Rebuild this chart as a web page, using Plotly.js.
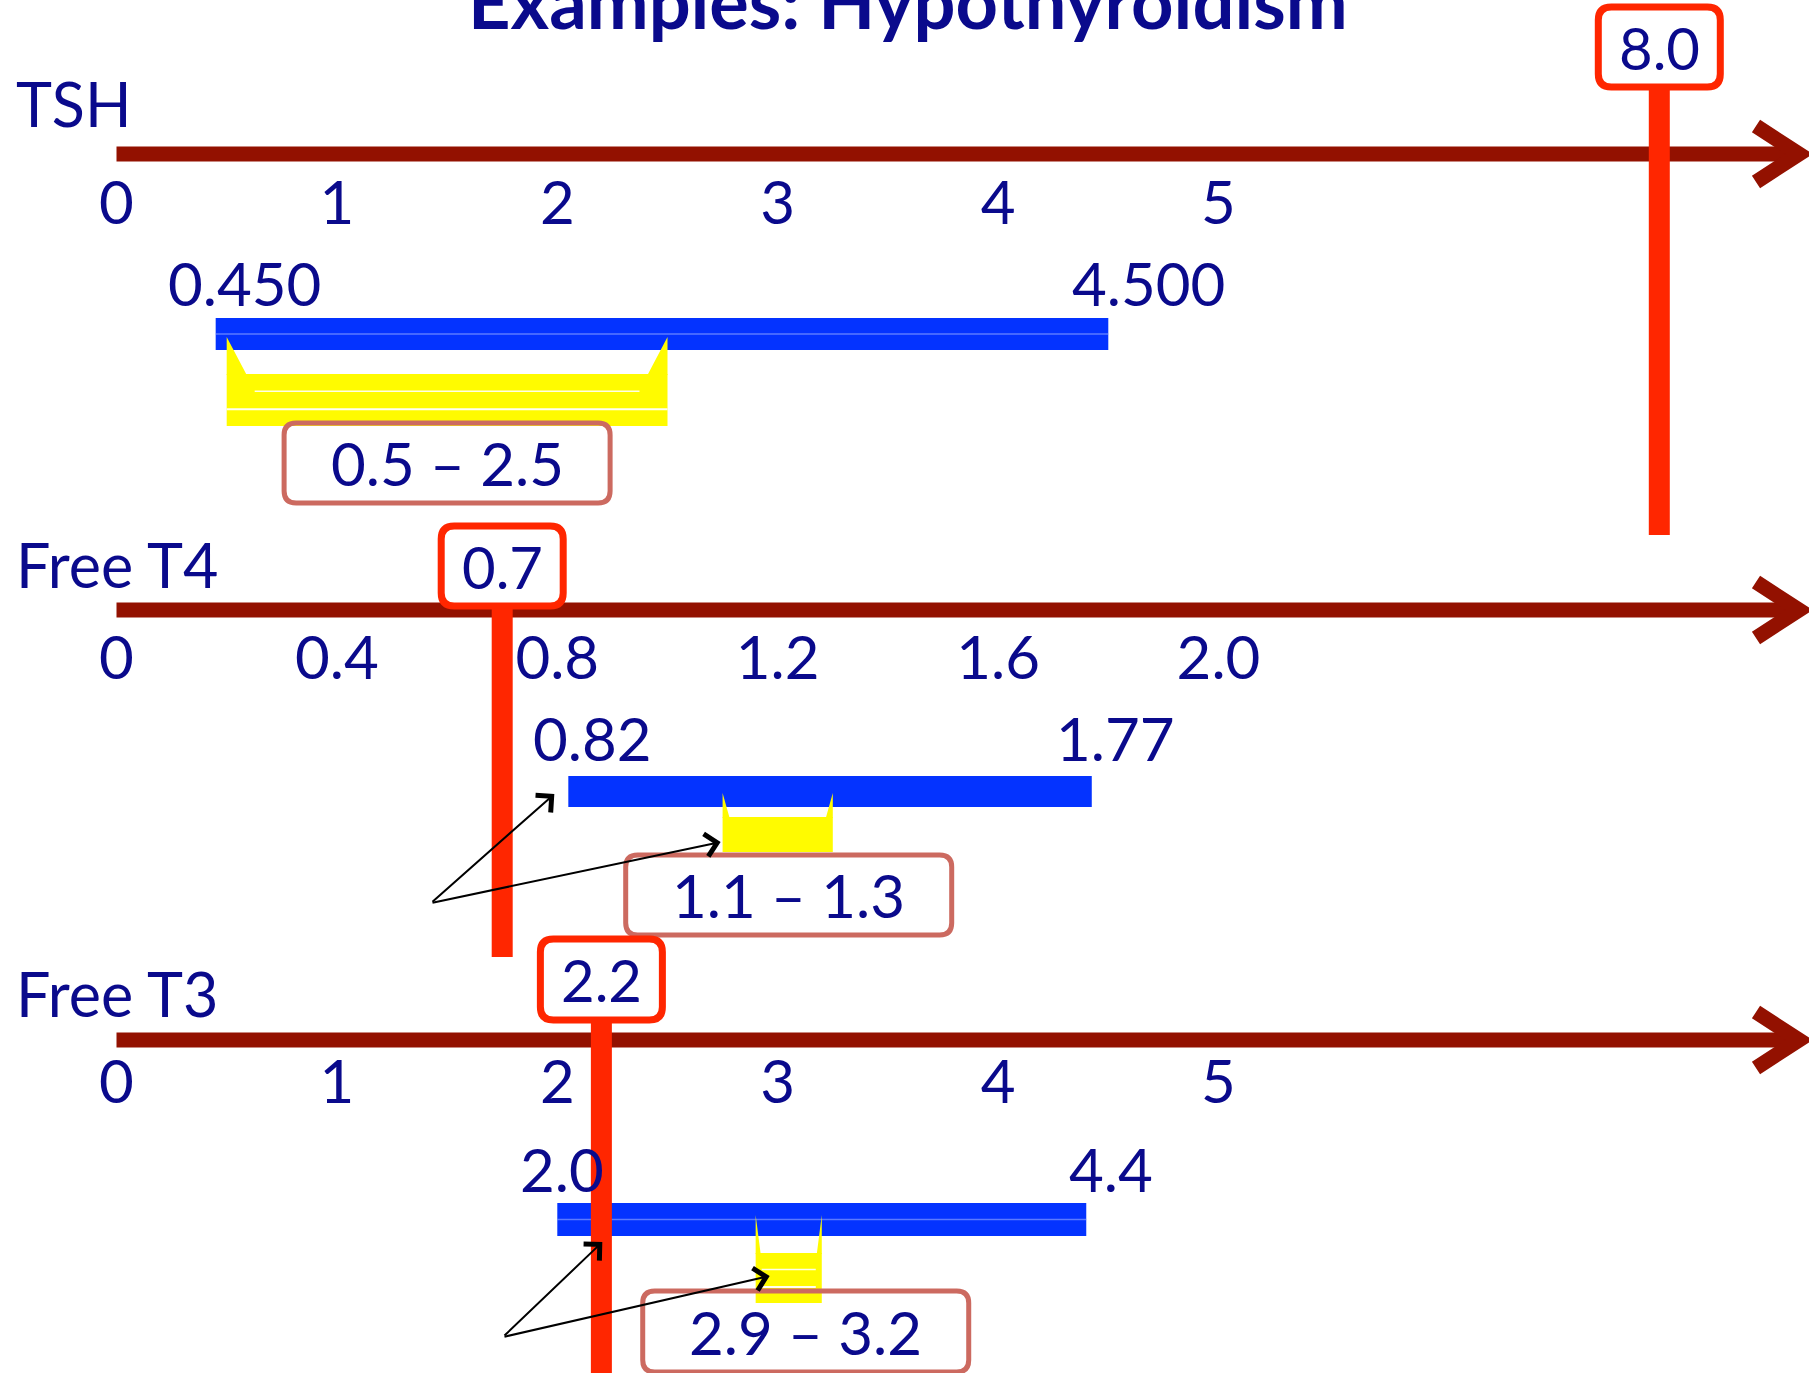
<!DOCTYPE html>
<html>
<head>
<meta charset="utf-8">
<script src="https://cdn.plot.ly/plotly-3.0.1.min.js"></script>
<style>
  html, body { margin: 0; padding: 0; background: #fff; }
  #chart { width: 1809px; height: 1373px; }
</style>
</head>
<body>
<div id="chart"></div>
<script>
// --- data ---
const panels = ['TSH', 'Free T4', 'Free T3'];
const tickVals = [[0, 1, 2, 3, 4, 5], [0, 0.4, 0.8, 1.2, 1.6, 2.0], [0, 1, 2, 3, 4, 5]];
const tickText = [['0', '1', '2', '3', '4', '5'], ['0', '0.4', '0.8', '1.2', '1.6', '2.0'], ['0', '1', '2', '3', '4', '5']];
const refLow = [0.45, 0.82, 2.0];
const refHigh = [4.5, 1.77, 4.4];
const refLowText = ['0.450', '0.82', '2.0'];
const refHighText = ['4.500', '1.77', '4.4'];
const optLow = [0.5, 1.1, 2.9];
const optHigh = [2.5, 1.3, 3.2];
const optText = ['0.5 \u2013 2.5', '1.1 \u2013 1.3', '2.9 \u2013 3.2'];
const patient = [8.0, 0.7, 2.2];
const patientText = ['8.0', '0.7', '2.2'];

// --- layout / style ---
const W = 1809, H = 1373;
const ORIGIN_PX = 116.5, STEP_PX = 220.4;
const step = [1, 0.4, 1];
const axisIds = ['x', 'x2', 'x'];
const NAVY = '#0a0a8c', AXIS_RED = '#931100', BLUE = '#0433ff', YELLOW = '#fffb00', RED = '#ff2600', BOX_EDGE = '#cc6a60';
const FONT = 'Lato, "Noto Sans", sans-serif';
const Y = {
  axis: [154, 610, 1040],
  label: [103, 564, 993],
  tick: [209, 664, 1088],
  refText: [283, 738, 1169],
  blue: [[318, 350], [776, 807], [1203, 1236]],
  yellow: [[374, 426], [817, 852], [1253, 1303]],
  horn: [337, 793, 1215],
  box: [[423, 503], [855, 935], [1291, 1372]],
  redBox: [[7, 87], [526, 606], [939, 1020]],
  redEnd: [535, 957, 1390]
};
const hornW = [20, 7, 5];
const boxDx = [0, 11, 17];
const lowDx = [29, 24, 5], highDx = [40, 24, 25];
const arrowFrom = [null, [431, 903], [503, 1337]];
const arrowTipY = [null, [794, 842], [1242, 1276]];
const arrowTipDx = [null, [-14, -2], [45, 14]];

// TSH arrow axis is compressed beyond 5
function pos(i, v) { return (i === 0 && v > 5) ? 5 + (v - 5) * 2 / 3 : v; }
function u(i, px) { return px / STEP_PX * step[i]; }
function abs2u(i, px) { return (px - ORIGIN_PX) / STEP_PX * step[i]; }
function u2px(i, v) { return ORIGIN_PX + v / step[i] * STEP_PX; }

function roundRect(i, cx, halfW, y0, y1, r) {
  const xl = cx - u(i, halfW), xr = cx + u(i, halfW), rx = u(i, r);
  return `M${xl + rx},${y0} L${xr - rx},${y0} Q${xr},${y0} ${xr},${y0 + r} L${xr},${y1 - r} Q${xr},${y1} ${xr - rx},${y1} ` +
    `L${xl + rx},${y1} Q${xl},${y1} ${xl},${y1 - r} L${xl},${y0 + r} Q${xl},${y0} ${xl + rx},${y0} Z`;
}

const shapes = [];
const annotations = [];
const traces = [];

annotations.push({
  xref: 'paper', yref: 'y', x: 908 / W, y: 0, xanchor: 'center', yanchor: 'middle',
  text: 'Examples: Hypothyroidism', showarrow: false,
  font: { family: FONT, size: 74, color: NAVY, weight: 700 }
});

panels.forEach((name, i) => {
  const xr = axisIds[i];
  const ay = Y.axis[i];

  // arrow axis
  shapes.push({ type: 'line', xref: xr, yref: 'y', x0: 0, x1: abs2u(i, 1796), y0: ay, y1: ay,
    line: { color: AXIS_RED, width: 15 } });
  shapes.push({ type: 'path', xref: xr, yref: 'y',
    path: `M${abs2u(i, 1756)},${ay - 28} L${abs2u(i, 1799)},${ay} L${abs2u(i, 1756)},${ay + 28}`,
    line: { color: AXIS_RED, width: 15 } });

  // reference range (blue)
  shapes.push({ type: 'rect', xref: xr, yref: 'y', x0: refLow[i], x1: refHigh[i], y0: Y.blue[i][0], y1: Y.blue[i][1],
    fillcolor: BLUE, line: { width: 0 } });
  if (i !== 1) {
    const mid = (Y.blue[i][0] + Y.blue[i][1]) / 2;
    shapes.push({ type: 'line', xref: xr, yref: 'y', x0: refLow[i], x1: refHigh[i], y0: mid, y1: mid,
      line: { color: 'rgba(150,170,255,0.6)', width: 1.5 } });
  }

  // optimal range (yellow)
  const [yt, yb] = Y.yellow[i];
  const x0 = optLow[i], x1 = optHigh[i], hw = u(i, hornW[i]);
  shapes.push({ type: 'rect', xref: xr, yref: 'y', x0: x0, x1: x1, y0: yt, y1: yb,
    fillcolor: YELLOW, line: { width: 0 } });
  shapes.push({ type: 'path', xref: xr, yref: 'y',
    path: `M${x0},${yt + 1} L${x0},${Y.horn[i]} L${x0 + hw},${yt + 1} Z M${x1},${yt + 1} L${x1},${Y.horn[i]} L${x1 - hw},${yt + 1} Z`,
    fillcolor: YELLOW, line: { width: 0 } });
  if (i !== 1) {
    const h = yb - yt;
    const inset = i === 0 ? 28 : 6;
    shapes.push({ type: 'line', xref: xr, yref: 'y', x0: x0 + u(i, inset), x1: x1 - u(i, inset), y0: yt + h * 0.33, y1: yt + h * 0.33,
      line: { color: 'rgba(255,255,255,0.9)', width: 1.5 } });
    shapes.push({ type: 'line', xref: xr, yref: 'y', x0: x0 + u(i, i === 0 ? 0 : 6), x1: x1 - u(i, i === 0 ? 0 : 6), y0: yt + h * 0.68, y1: yt + h * 0.68,
      line: { color: 'rgba(255,255,255,0.95)', width: 2 } });
  }

  // optimal range box
  const cx = (optLow[i] + optHigh[i]) / 2 + u(i, boxDx[i]);
  shapes.push({ type: 'path', xref: xr, yref: 'y', path: roundRect(i, cx, 163, Y.box[i][0], Y.box[i][1], 12),
    fillcolor: 'rgba(255,255,255,0)', line: { color: BOX_EDGE, width: 5 } });
  annotations.push({ xref: xr, yref: 'y', x: cx, y: (Y.box[i][0] + Y.box[i][1]) / 2, showarrow: false,
    text: optText[i], xanchor: 'center', yanchor: 'middle',
    font: { family: FONT, size: 60, color: NAVY } });

  // labels
  annotations.push({ xref: 'paper', yref: 'y', x: 14 / W, y: Y.label[i], xanchor: 'left', yanchor: 'middle',
    text: name, showarrow: false, font: { family: FONT, size: 61, color: NAVY } });
  annotations.push({ xref: xr, yref: 'y', x: refLow[i], xshift: lowDx[i], y: Y.refText[i], xanchor: 'center', yanchor: 'middle',
    text: refLowText[i], showarrow: false, font: { family: FONT, size: 60, color: NAVY } });
  annotations.push({ xref: xr, yref: 'y', x: refHigh[i], xshift: highDx[i], y: Y.refText[i], xanchor: 'center', yanchor: 'middle',
    text: refHighText[i], showarrow: false, font: { family: FONT, size: 60, color: NAVY } });

  // tick labels via the panel's own axis
  traces.push({
    type: 'scatter', mode: 'text', xaxis: xr, yaxis: 'y',
    x: tickVals[i], y: tickVals[i].map(() => Y.tick[i]), text: tickText[i],
    textposition: 'middle center', cliponaxis: false, hoverinfo: 'skip', showlegend: false,
    textfont: { family: FONT, size: 60, color: NAVY }
  });

  // arrows from a common point to the start of each range
  if (arrowFrom[i]) {
    const targets = [refLow[i], optLow[i]];
    targets.forEach((t, k) => {
      const tipX = t + u(i, arrowTipDx[i][k]);
      const tipY = arrowTipY[i][k];
      annotations.push({
        xref: xr, yref: 'y', x: tipX, y: tipY, text: '', showarrow: true,
        axref: 'pixel', ayref: 'pixel',
        ax: arrowFrom[i][0] - u2px(i, tipX), ay: arrowFrom[i][1] - tipY,
        arrowhead: 4, arrowsize: 2.2, arrowwidth: 2, arrowcolor: '#000', standoff: 0
      });
    });
  }
});

// patient values (red) drawn last so they sit on top
panels.forEach((name, i) => {
  const xr = axisIds[i];
  const xv = pos(i, patient[i]);
  shapes.push({ type: 'line', xref: xr, yref: 'y', x0: xv, x1: xv, y0: Y.redBox[i][1], y1: Y.redEnd[i],
    line: { color: RED, width: 21 } });
  shapes.push({ type: 'path', xref: xr, yref: 'y', path: roundRect(i, xv, 61, Y.redBox[i][0], Y.redBox[i][1], 13),
    fillcolor: '#ffffff', line: { color: RED, width: 7 } });
  annotations.push({ xref: xr, yref: 'y', x: xv, y: (Y.redBox[i][0] + Y.redBox[i][1]) / 2, showarrow: false,
    text: patientText[i], xanchor: 'center', yanchor: 'middle',
    font: { family: FONT, size: 58, color: NAVY } });
});

const layout = {
  width: W, height: H,
  margin: { l: 0, r: 0, t: 0, b: 0 },
  paper_bgcolor: '#ffffff', plot_bgcolor: '#ffffff',
  showlegend: false,
  xaxis: { range: [abs2u(0, 0), abs2u(0, W)], visible: false, fixedrange: true },
  xaxis2: { range: [abs2u(1, 0), abs2u(1, W)], visible: false, fixedrange: true, overlaying: 'x', anchor: 'y' },
  yaxis: { range: [H, 0], visible: false, fixedrange: true },
  shapes: shapes,
  annotations: annotations
};

Plotly.newPlot('chart', traces, layout, { staticPlot: true, displayModeBar: false });
</script>
</body>
</html>
